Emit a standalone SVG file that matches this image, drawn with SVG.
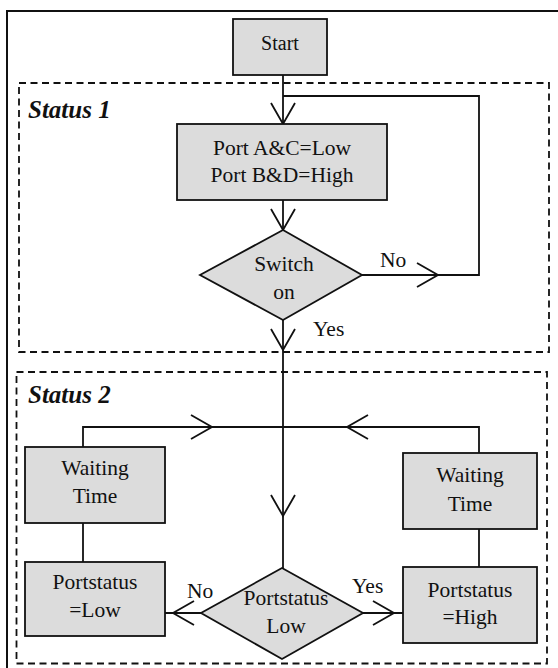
<svg xmlns="http://www.w3.org/2000/svg" width="558" height="668" viewBox="0 0 558 668">
  <style>
    .frame { fill: none; stroke: #111; stroke-width: 2; }
    .zone { fill: none; stroke: #111; stroke-width: 1.8; stroke-dasharray: 7 4.5; }
    .box { fill: #dcdcdc; stroke: #111; stroke-width: 1.8; }
    .line { fill: none; stroke: #111; stroke-width: 1.8; }
    .head { fill: none; stroke: #111; stroke-width: 1.8; stroke-linecap: butt; stroke-linejoin: miter; }
    text { font-family: "Liberation Serif", "Times New Roman", serif; fill: #111; }
    .t { font-size: 21.5px; text-anchor: middle; }
    .lbl { font-size: 21.5px; }
    .zt { font-size: 25px; font-weight: bold; font-style: italic; }
  </style>
  <defs>
    <!-- open V arrowhead, tip at origin, pointing along +x -->
    <path id="ah" d="M-21,-12 L0,0 L-21,12"/>
  </defs>

  <rect width="558" height="668" fill="#fff"/>
  <!-- outer frame (right and bottom edges run off the page) -->
  <rect class="frame" x="7" y="11" width="570" height="680"/>

  <!-- state zones -->
  <g id="zone-status1">
    <rect class="zone" x="19" y="83" width="530" height="269"/>
    <text class="zt" x="28" y="118">Status 1</text>
  </g>
  <g id="zone-status2">
    <rect class="zone" x="16.5" y="372" width="530.5" height="291.5"/>
    <text class="zt" x="28" y="403">Status 2</text>
  </g>

  <!-- connectors -->
  <g id="connectors">
    <path class="line" d="M283,75 V124"/>
    <path class="line" d="M362,275 H479 V96 H283"/>
    <path class="line" d="M283,200 V230"/>
    <path class="line" d="M283,320 V568"/>
    <path class="line" d="M83,447 V427 H479 V453"/>
    <path class="line" d="M83,523 V562"/>
    <path class="line" d="M479,529 V567"/>
    <path class="line" d="M201,613 H165"/>
    <path class="line" d="M363,613 H403"/>

    <use href="#ah" class="head" transform="translate(283,124) rotate(90)"/>
    <use href="#ah" class="head" transform="translate(438,275)"/>
    <use href="#ah" class="head" transform="translate(283,230) rotate(90)"/>
    <use href="#ah" class="head" transform="translate(283,350) rotate(90)"/>
    <use href="#ah" class="head" transform="translate(283,516) rotate(90)"/>
    <use href="#ah" class="head" transform="translate(212,427)"/>
    <use href="#ah" class="head" transform="translate(347,427) rotate(180)"/>
    <use href="#ah" class="head" transform="translate(173,613) rotate(180)"/>
    <use href="#ah" class="head" transform="translate(394,613)"/>

    <text class="lbl" x="380" y="267">No</text>
    <text class="lbl" x="313" y="336">Yes</text>
    <text class="lbl" x="187" y="598">No</text>
    <text class="lbl" x="352" y="593">Yes</text>
  </g>

  <!-- nodes -->
  <g id="start">
    <rect class="box" x="233" y="19" width="94" height="56"/>
    <text class="t" x="280" y="50" style="font-size:20px">Start</text>
  </g>
  <g id="init-ports">
    <rect class="box" x="177" y="124" width="210" height="76"/>
    <text class="t" x="282" y="155">Port A&amp;C=Low</text>
    <text class="t" x="282" y="182">Port B&amp;D=High</text>
  </g>
  <g id="switch-on">
    <polygon class="box" points="283,230 362,275 283,320 200,275"/>
    <text class="t" x="284" y="271">Switch</text>
    <text class="t" x="284" y="299">on</text>
  </g>
  <g id="wait-left">
    <rect class="box" x="25" y="447" width="140" height="76"/>
    <text class="t" x="95" y="475">Waiting</text>
    <text class="t" x="95" y="503">Time</text>
  </g>
  <g id="wait-right">
    <rect class="box" x="403" y="453" width="134" height="76"/>
    <text class="t" x="470" y="482">Waiting</text>
    <text class="t" x="470" y="511">Time</text>
  </g>
  <g id="port-low">
    <rect class="box" x="25" y="562" width="140" height="74"/>
    <text class="t" x="95" y="589">Portstatus</text>
    <text class="t" x="95" y="617">=Low</text>
  </g>
  <g id="port-high">
    <rect class="box" x="403" y="567" width="134" height="76"/>
    <text class="t" x="470" y="597">Portstatus</text>
    <text class="t" x="470" y="624">=High</text>
  </g>
  <g id="portstatus-low">
    <polygon class="box" points="282,568 363,613 282,659 201,613"/>
    <text class="t" x="286" y="605">Portstatus</text>
    <text class="t" x="286" y="633">Low</text>
  </g>
</svg>
